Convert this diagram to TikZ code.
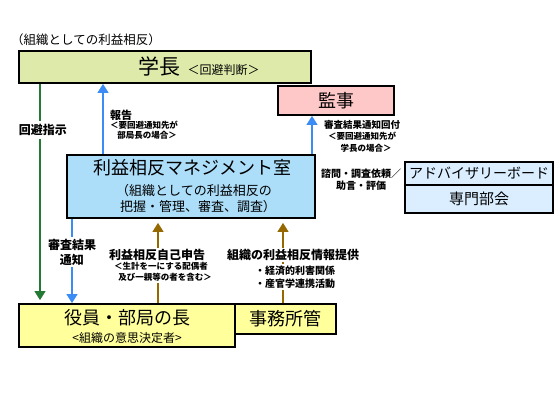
\documentclass[tikz,border=0pt]{standalone}
\usepackage{fontspec}
\setmainfont{Noto Sans CJK JP}
\usetikzlibrary{arrows.meta}
\definecolor{cgak}{RGB}{222,234,170}
\definecolor{ckan}{RGB}{255,200,200}
\definecolor{cmgmt}{RGB}{172,222,250}
\definecolor{cadv}{RGB}{218,238,255}
\definecolor{cyak}{RGB}{255,255,155}
\definecolor{cgreen}{RGB}{34,122,52}
\definecolor{cblue}{RGB}{60,140,245}
\definecolor{cbrown}{RGB}{150,104,0}
\newcommand\fsz[2]{\fontsize{#1}{#2}\selectfont}
\begin{document}
\begin{tikzpicture}[x=1pt,y=-1pt,
  box/.style={draw=black, line width=1.6pt, inner sep=0pt, align=center, anchor=center},
  arr/.style={line width=2.8pt, -{Triangle[width=10.5pt,length=9pt]}},
  garr/.style={arr, draw=cgreen, cgreen},
  barr/.style={arr, draw=cblue, cblue},
  brarr/.style={arr, draw=cbrown, cbrown},
  lbl/.style={fill=white, inner sep=1.5pt, align=center, font=\bfseries\fsz{12}{15}},
  slbl/.style={inner sep=1pt, align=center}]
\useasboundingbox (0,0) rectangle (560,420);

\node[anchor=center, inner sep=0pt, font=\fsz{12.5}{14}] (title) at (86,40) {（組織としての利益相反）};

\node[box, fill=cgak, minimum width=292pt, minimum height=32pt] (gakucho) at (165,67) {};
\node[inner sep=0pt, anchor=base] (gakt) at (199,75) {{\fsz{21}{24}学長}\hspace{7pt}{\fsz{12}{14}＜回避判断＞}};

\node[box, fill=ckan, minimum width=116pt, minimum height=29pt, font=\fsz{18}{20}] (kanji) at (336,100.5) {監事};

\node[box, fill=cmgmt, minimum width=248pt, minimum height=63pt] (mgmt) at (191,186.5) {};
\node[inner sep=0pt, font=\fsz{18}{20}] (mgmt1) at (192,168) {利益相反マネジメント室};
\node[inner sep=0pt, align=center, font=\fsz{13}{16}] (mgmt2) at (194,199) {（組織としての利益相反の\\\hspace{8pt}把握・管理、審査、調査）};

\node[box, fill=cadv, minimum width=148pt, minimum height=23pt, font=\fsz{14}{16}] (adv) at (479,173.5) {アドバイザリーボード};
\node[box, fill=cadv, minimum width=148pt, minimum height=28pt, font=\fsz{15}{17}] (senmon) at (479,199) {専門部会};

\node[box, fill=cyak, minimum width=216pt, minimum height=43pt] (yakuin) at (127,325.5) {};
\node[inner sep=0pt, font=\fsz{18}{20}] (yak1) at (127,318) {役員・部局の長};
\node[inner sep=0pt, font=\fsz{12}{14}] (yak2) at (127,338) {<組織の意思決定者>};
\node[box, fill=cyak, minimum width=101pt, minimum height=30pt, font=\fsz{18}{20}] (jimu) at (285.5,319) {事務所管};

\coordinate (gx) at (40,0);
\coordinate (bx1) at (103,0);
\coordinate (bx2) at (72,0);
\coordinate (bx3) at (312,0);
\coordinate (brx1) at (158,0);
\coordinate (brx2) at (283,0);

\draw[garr, shorten >=3pt] (gakucho.south -| gx) -- (yakuin.north -| gx);
\draw[barr] (mgmt.north -| bx1) -- (gakucho.south -| bx1);
\draw[barr] (mgmt.south -| bx2) -- (yakuin.north -| bx2);
\draw[barr] (mgmt.north -| bx3) -- (kanji.south -| bx3);
\draw[brarr, shorten >=4pt] (yakuin.north -| brx1) -- (mgmt.south -| brx1);
\draw[brarr, shorten >=4pt] (jimu.north -| brx2) -- (mgmt.south -| brx2);

\node[lbl, inner sep=3pt] (kaihi) at (43,130) {回避指示};
\node[lbl] (shinsa) at (72,252) {審査結果\\通知};
\node[lbl] (jiko) at (157,255) {利益相反自己申告};
\node[lbl, font=\bfseries\fsz{8.5}{11}] (jiko2) at (161,272) {＜生計を一にする配偶者\\\hspace{8pt}及び一親等の者を含む＞};
\node[lbl] (soshiki) at (293,255) {組織の利益相反情報提供};
\node[lbl, font=\bfseries\fsz{10}{12.5}] (soshiki2) at (295,277) {・経済的利害関係\\・産官学連携活動};

\node[slbl, anchor=west, font=\bfseries\fsz{11}{13}] (hokoku) at (109,115) {報告};
\node[slbl, font=\bfseries\fsz{8.5}{10.5}] (hokoku2) at (144,130) {＜要回避通知先が\\\hspace{6pt}部局長の場合＞};
\node[slbl, font=\bfseries\fsz{9.5}{11.5}] (kansa) at (362,136) {審査結果通知回付\\{\fsz{8.5}{11}＜要回避通知先が}\\{\fsz{8.5}{11}\hspace{8pt}学長の場合＞}};
\node[slbl, font=\bfseries\fsz{10}{12}] (shimon) at (361,180) {諮問・調査依頼／\\助言・評価};
\end{tikzpicture}
\end{document}
